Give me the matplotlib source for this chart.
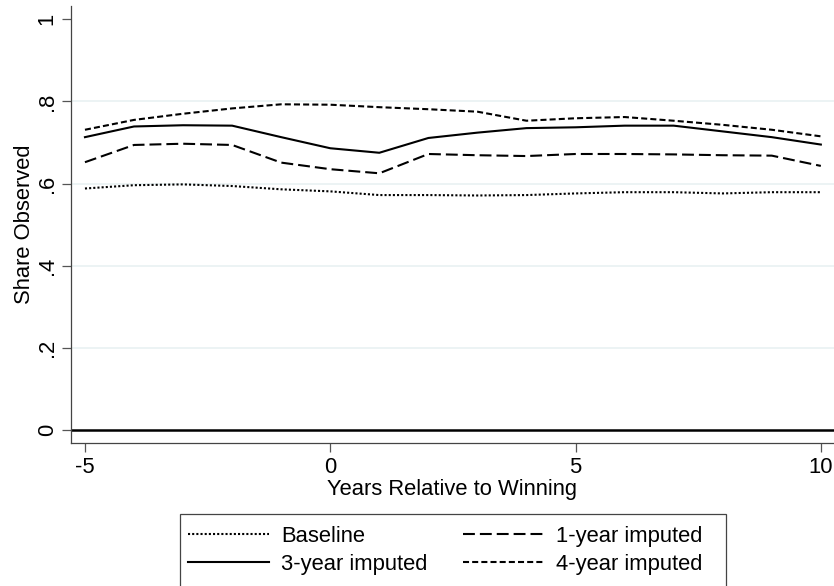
import matplotlib
matplotlib.use("Agg")
import matplotlib.pyplot as plt
from matplotlib.patches import Rectangle

plt.rcParams['font.family'] = ['Liberation Sans', 'DejaVu Sans']

years = list(range(-5, 11))
baseline = [0.588, 0.596, 0.598, 0.594, 0.586, 0.581, 0.572, 0.572, 0.571, 0.572,
            0.576, 0.579, 0.579, 0.576, 0.579, 0.579]
imp1 = [0.652, 0.694, 0.697, 0.694, 0.651, 0.635, 0.625, 0.672, 0.669, 0.667,
        0.672, 0.672, 0.671, 0.669, 0.668, 0.643]
imp3 = [0.713, 0.739, 0.742, 0.741, 0.713, 0.686, 0.675, 0.711, 0.724, 0.735,
        0.737, 0.741, 0.741, 0.727, 0.713, 0.695]
imp4 = [0.731, 0.755, 0.770, 0.783, 0.793, 0.792, 0.786, 0.781, 0.775, 0.753,
        0.759, 0.762, 0.753, 0.743, 0.731, 0.715]

xticks = [-5, 0, 5, 10]
yticks = [0, 0.2, 0.4, 0.6, 0.8, 1.0]
yticklabels = ['0', '.2', '.4', '.6', '.8', '1']
labels = ['Baseline', '1-year imputed', '3-year imputed', '4-year imputed']

FS = 15.8
W, H = 834, 586
fig = plt.figure(figsize=(W / 100, H / 100), dpi=100)
ax = fig.add_axes([0.0851, 0.2435, 0.9149, 0.9903 - 0.2435])

for g in [0.2, 0.4, 0.6, 0.8]:
    ax.axhline(g, color='#eaf2f3', lw=1.3, zorder=0)
ax.axhline(0, color='black', lw=1.8, zorder=1)

lw = 1.5
l_base, = ax.plot(years, baseline, color='black', lw=lw, dashes=(1.0, 1.0), label=labels[0])
l_1, = ax.plot(years, imp1, color='black', lw=lw, dashes=(5.7, 2.4), label=labels[1])
l_3, = ax.plot(years, imp3, color='black', lw=lw, label=labels[2])
l_4, = ax.plot(years, imp4, color='black', lw=lw, dashes=(2.9, 1.5), label=labels[3])

ax.set_xlim(-5.285, 10.268)
ax.set_ylim(-0.0324, 1.0331)
ax.set_xticks(xticks)
ax.set_xticklabels([str(v) for v in xticks], fontsize=FS)
ax.set_yticks(yticks)
ax.set_yticklabels(yticklabels, fontsize=FS, rotation=90, va='center')
ax.tick_params(axis='both', direction='out', length=6.5, width=0.9, color='#555555')
ax.tick_params(axis='x', pad=3)
ax.tick_params(axis='y', pad=3)

for s in ['top', 'right']:
    ax.spines[s].set_visible(False)
for s in ['left', 'bottom']:
    ax.spines[s].set_color('#444444')
    ax.spines[s].set_linewidth(0.9)

ax.set_xlabel('Years Relative to Winning', fontsize=FS, labelpad=1)
ax.set_ylabel('Share Observed', fontsize=FS, labelpad=1.5)

# legend box frame (extends past the bottom edge of the figure)
fig.patches.append(Rectangle((180 / W, 1 - 620 / H), (726 - 180) / W, (620 - 514) / H,
                             transform=fig.transFigure, fill=False,
                             edgecolor='#444444', linewidth=0.9, clip_on=False))

leg = fig.legend([l_base, l_3, l_1, l_4],
                 [labels[0], labels[2], labels[1], labels[3]],
                 ncol=2, loc='upper left', bbox_to_anchor=(188 / W, 1 - 526 / H),
                 bbox_transform=fig.transFigure, fontsize=FS, frameon=False,
                 borderaxespad=0, borderpad=0,
                 handlelength=3.7, handletextpad=0.55, columnspacing=1.6,
                 labelspacing=0.30)

fig.savefig('out.png', dpi=100)
